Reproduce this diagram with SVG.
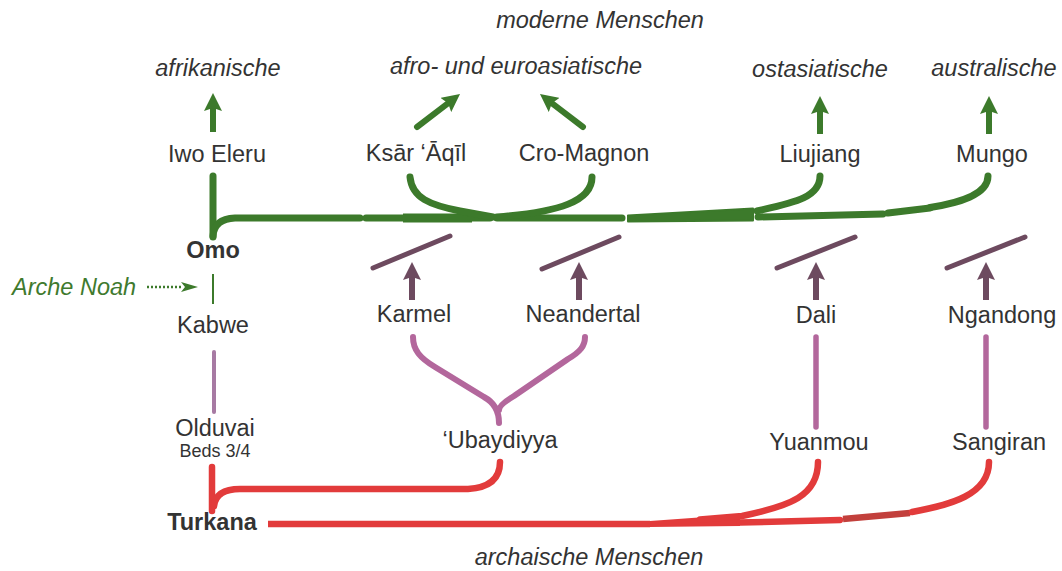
<svg xmlns="http://www.w3.org/2000/svg" width="1062" height="571" viewBox="0 0 1062 571">
<defs>
<marker id="ag" viewBox="0 0 18 18" markerWidth="18" markerHeight="18" refX="6" refY="9" orient="auto" markerUnits="userSpaceOnUse"><path d="M0,0 L18,9 L0,18 L3,9 z" fill="#3c7a2b"/></marker>
<marker id="am" viewBox="0 0 18 18" markerWidth="18" markerHeight="18" refX="6" refY="9" orient="auto" markerUnits="userSpaceOnUse"><path d="M0,0 L18,9 L0,18 L3,9 z" fill="#6d4a5f"/></marker>
</defs>
<style>
text{font-family:"Liberation Sans",Arial,Helvetica,sans-serif;font-size:23.5px;fill:#333;text-anchor:middle}
.it{font-style:italic}
.b{font-weight:bold}
.g{fill:none;stroke:#3c7a2b;stroke-width:7;stroke-linecap:round;stroke-linejoin:round}
.r{fill:none;stroke:#e23b3b;stroke-width:6.5;stroke-linecap:round;stroke-linejoin:round}
.p{fill:none;stroke:#b3679c;stroke-width:6;stroke-linecap:round;stroke-linejoin:round}
.m{fill:none;stroke:#6d4a5f;stroke-width:5;stroke-linecap:round}
.ma{fill:none;stroke:#6d4a5f;stroke-width:6}
.ga{fill:none;stroke:#3c7a2b;stroke-width:6}
</style>
<g id="connectors">
<path class="g" d="M213,176 L213,237"/>
<path class="g" d="M213,236 Q214,219 235,218 L360,218"/>
<path class="g" d="M366,218 L490,218"/>
<path class="g" d="M497,218 L622,218"/>
<path class="g" d="M403,218 L472,218" style="stroke-width:9;stroke-linecap:butt"/>
<polygon points="628,215.5 753,208.5 753,220.5 628,221.5" fill="#3c7a2b" stroke="#3c7a2b" stroke-width="2" stroke-linejoin="round"/>
<path class="g" d="M758,217 L883,214"/>
<path class="g" d="M888,213 L930,208"/>
<path class="g" d="M930,207.5 C958,203 988,195 988,176"/>
<path class="g" d="M757,211 C792,203 820,198 820,176"/>
<path class="g" d="M410,177 C412,198 430,205 460,211 L493,217"/>
<path class="g" d="M592,177 C592,201 560,212 497,217"/>
<path class="ga" d="M213,132 L213,105" marker-end="url(#ag)"/>
<path class="ga" d="M417,127 L450.5,101.3" marker-end="url(#ag)" style="stroke-linecap:round"/>
<path class="ga" d="M583,127 L549.5,101.3" marker-end="url(#ag)" style="stroke-linecap:round"/>
<path class="ga" d="M820,134 L820,108" marker-end="url(#ag)"/>
<path class="ga" d="M989,134 L989,108" marker-end="url(#ag)"/>
<path d="M147,287 L183,287" fill="none" stroke="#3c7a2b" stroke-width="2.5" stroke-dasharray="2,2"/>
<polygon points="181,282 198,287 181,292 185,287" fill="#3c7a2b"/>
<path d="M213,274 L213,304" fill="none" stroke="#3c7a2b" stroke-width="2"/>
<path d="M214,352 L214,412" fill="none" stroke="#a77aa3" stroke-width="4" stroke-linecap="round"/>
<path class="m" d="M373,268 L450,236"/>
<path class="m" d="M542,269 L619,237"/>
<path class="m" d="M777,268 L855,237"/>
<path class="m" d="M947,268 L1025,237"/>
<path class="ma" d="M412,300 L412,274" marker-end="url(#am)"/>
<path class="ma" d="M579,300 L579,274" marker-end="url(#am)"/>
<path class="ma" d="M816,300 L816,274" marker-end="url(#am)"/>
<path class="ma" d="M986,300 L986,274" marker-end="url(#am)"/>
<path class="p" d="M413,337 C413,350 420,358 435,367 L484,397 Q499,405 499,423"/>
<path class="p" d="M585,337 C585,346 580,352 568,359 L514,396 Q499,405 499,410"/>
<path class="p" d="M816,337 L816,427" style="stroke-width:5.5"/>
<path class="p" d="M986,337 L986,427" style="stroke-width:5.5"/>
<path class="r" d="M212,467 L212,511"/>
<path class="r" d="M214,506 Q216,489 240,489 L468,489 Q500,487 500,462"/>
<path class="r" d="M268,524 L650,524" style="stroke-linecap:butt"/>
<polygon points="650,521 740,514.5 740,526 650,527" fill="#e23b3b"/>
<path class="r" d="M818,462 C818,496 790,506 742,516 L700,519.5"/>
<path class="r" d="M740,522.5 L840,520"/>
<path d="M843,519 L910,513" fill="none" stroke="#c2403c" stroke-width="6.5" stroke-linecap="butt"/>
<path class="r" d="M912,512 C950,505 989,495 989,462"/>
</g>
<g id="labels-top">
<text class="it" x="600" y="28">moderne Menschen</text>
<text class="it" x="218" y="76">afrikanische</text>
<text class="it" x="516" y="74">afro- und euroasiatische</text>
<text class="it" x="820" y="77">ostasiatische</text>
<text class="it" x="994" y="76">australische</text>
</g>
<g id="node-iwo"><text x="217" y="162">Iwo Eleru</text></g>
<g id="node-ksar"><text x="416" y="161">Ksār ‘Āqīl</text></g>
<g id="node-cro"><text x="584" y="161">Cro-Magnon</text></g>
<g id="node-liujiang"><text x="820" y="162">Liujiang</text></g>
<g id="node-mungo"><text x="992" y="162">Mungo</text></g>
<g id="node-omo"><text class="b" x="213" y="258">Omo</text></g>
<g id="node-arche"><text class="it" x="12" y="295" style="text-anchor:start;fill:#3f7a2e">Arche Noah</text></g>
<g id="node-kabwe"><text x="213" y="333">Kabwe</text></g>
<g id="node-karmel"><text x="414" y="322">Karmel</text></g>
<g id="node-neandertal"><text x="583" y="322">Neandertal</text></g>
<g id="node-dali"><text x="816" y="323">Dali</text></g>
<g id="node-ngandong"><text x="1002" y="323">Ngandong</text></g>
<g id="node-olduvai"><text x="215" y="436">Olduvai</text><text x="215" y="457" style="font-size:18px">Beds 3/4</text></g>
<g id="node-ubaydiyya"><text x="500" y="448">‘Ubaydiyya</text></g>
<g id="node-yuanmou"><text x="819" y="450">Yuanmou</text></g>
<g id="node-sangiran"><text x="999" y="450">Sangiran</text></g>
<g id="node-turkana"><text class="b" x="212" y="530">Turkana</text></g>
<g id="label-bottom"><text class="it" x="589" y="565">archaische Menschen</text></g>
</svg>
